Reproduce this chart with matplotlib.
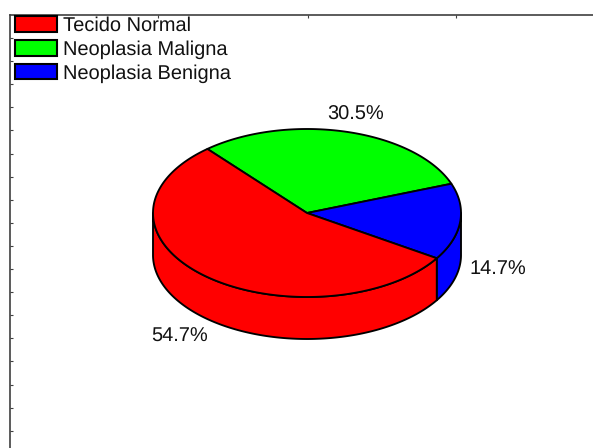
import numpy as np
import matplotlib
matplotlib.use("Agg")
import matplotlib.pyplot as plt
from matplotlib.patches import Patch, Polygon

plt.rcParams['font.family'] = ['Liberation Sans', 'DejaVu Sans']
plt.rcParams['text.hinting'] = 'no_hinting'
plt.rcParams['text.hinting_factor'] = 1

categories = ["Tecido Normal", "Neoplasia Maligna", "Neoplasia Benigna"]
values = [54.7, 30.5, 14.7]
colors = ["#ff0000", "#00ff00", "#0000ff"]
pct_labels = ["54.7%", "30.5%", "14.7%"]

W, H = 593, 448
CX, CY, RX, RY, DEPTH = 307, 213, 154, 84, 42
START = 130.3
EDGE = 1.35
FONT = 14.5

fig = plt.figure(figsize=(W / 100, H / 100), dpi=100)
ax = fig.add_axes([10 / W, 0, (W - 10) / W, (H - 15) / H])
ax.set_xlim(10, W)
ax.set_ylim(H, 15)


def rim(a0, a1, dy=0):
    th = np.radians(np.linspace(a0, a1, 200))
    return np.column_stack([CX + RX * np.cos(th), CY - RY * np.sin(th) + dy])


# slices run clockwise from the start angle: green, blue, then red
order = [1, 2, 0]
fractions = np.array([values[i] for i in order]) / sum(values)
bounds = START - 360 * np.concatenate([[0], np.cumsum(fractions)])

# side wall: only the front half of the rim (180..360 degrees) is visible
for k, i in enumerate(order):
    a_hi, a_lo = bounds[k], bounds[k + 1]
    for shift in (0, 360, 720):
        lo = max(a_lo + shift, 180)
        hi = min(a_hi + shift, 360)
        if hi > lo:
            top = rim(lo, hi)
            bottom = rim(lo, hi, DEPTH)[::-1]
            ax.add_patch(Polygon(np.vstack([top, bottom]), closed=True,
                                 facecolor=colors[i], edgecolor="black",
                                 linewidth=EDGE, joinstyle="round", zorder=2))

# top face
for k, i in enumerate(order):
    pts = np.vstack([[CX, CY], rim(bounds[k], bounds[k + 1])])
    ax.add_patch(Polygon(pts, closed=True, facecolor=colors[i], edgecolor="black",
                         linewidth=EDGE, joinstyle="round", zorder=3))

label_pos = [(179.5, 337), (356, 115), (498, 270)]
for txt, (x, y) in zip(pct_labels, label_pos):
    ax.text(x, y, txt, ha="center", va="center", fontsize=FONT, color="#111111", zorder=4)

handles = [Patch(facecolor=c, edgecolor="black", linewidth=1.5) for c in colors]
ax.legend(handles, categories, loc="upper left",
          bbox_to_anchor=(5 / (W - 10), 1 - 1.5 / (H - 15)),
          bbox_transform=ax.transAxes, frameon=False, fontsize=FONT,
          handlelength=2.07, handleheight=0.79, handletextpad=0.3,
          labelspacing=0.25, borderpad=0, borderaxespad=0.0, labelcolor="#111111")

for s in ("right", "bottom"):
    ax.spines[s].set_visible(False)
for s in ("left", "top"):
    ax.spines[s].set_linewidth(1.2)
    ax.spines[s].set_color("#404040")

ax.xaxis.tick_top()
ax.set_xticks([157.5, 307.5, 456])
ax.set_yticks(15 + 23.1 * np.arange(1, 19))
ax.tick_params(direction="in", length=2, width=0.8, color="#404040",
               labelleft=False, labeltop=False)

fig.savefig("out.png", dpi=100)
